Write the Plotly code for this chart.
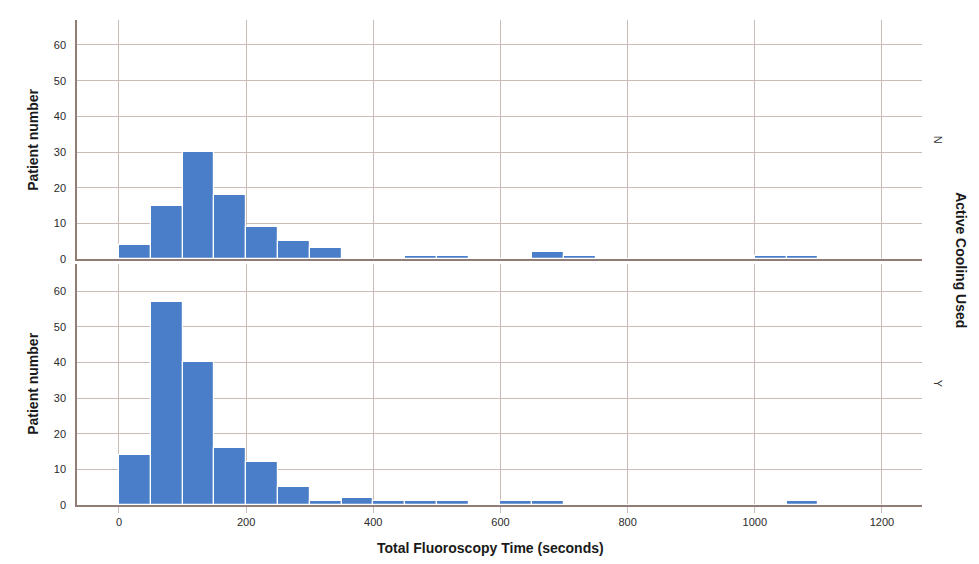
import plotly.graph_objects as go

# Histogram bins (seconds), width 50
bin_starts = [0, 50, 100, 150, 200, 250, 300, 350, 400, 450, 500, 550,
              600, 650, 700, 750, 800, 850, 900, 950, 1000, 1050, 1100, 1150]
bin_width = 50

# Counts per bin, Active Cooling Used = N
counts_n = [4, 15, 30, 18, 9, 5, 3, 0, 0, 1, 1, 0,
            0, 2, 1, 0, 0, 0, 0, 0, 1, 1, 0, 0]
# Counts per bin, Active Cooling Used = Y
counts_y = [14, 57, 40, 16, 12, 5, 1, 2, 1, 1, 1, 0,
            1, 1, 0, 0, 0, 0, 0, 0, 0, 1, 0, 0]

x_ticks = [0, 200, 400, 600, 800, 1000, 1200]
y_ticks = [0, 10, 20, 30, 40, 50, 60]
panel_labels = ["N", "Y"]

centers = [s + bin_width / 2 for s in bin_starts]

BAR = "#4a7ec9"
GRID = "#c9bbb5"
AXIS = "#927d76"
FONT = "Liberation Sans, Arial, sans-serif"
TICKFONT = dict(family=FONT, size=11, color="#2a2a2a")

fig = go.Figure()
fig.add_trace(go.Bar(x=centers, y=counts_n, width=bin_width, xaxis="x2", yaxis="y2",
                     marker=dict(color=BAR, line=dict(color="white", width=1.2)),
                     showlegend=False))
fig.add_trace(go.Bar(x=centers, y=counts_y, width=bin_width, xaxis="x", yaxis="y",
                     marker=dict(color=BAR, line=dict(color="white", width=1.2)),
                     showlegend=False))

xcommon = dict(range=[-66, 1263], tickvals=x_ticks, showgrid=True, gridcolor=GRID,
               gridwidth=1, showline=True, linecolor=AXIS, linewidth=2, zeroline=False,
               automargin=False)
ycommon = dict(tickvals=y_ticks, showgrid=True, gridcolor=GRID, gridwidth=1,
               showline=True, linecolor=AXIS, linewidth=1.5, zeroline=False,
               ticks="", ticklabelstandoff=7, automargin=False, tickfont=TICKFONT)

# The page body adds an 8px offset on every side, so the figure is sized to fit inside
fig.update_layout(
    width=963, height=548,
    margin=dict(l=69, r=49, t=12, b=51),
    paper_bgcolor="white", plot_bgcolor="white",
    bargap=0,
    xaxis=dict(**xcommon, anchor="y", ticks="outside", ticklen=6, tickcolor=GRID,
               tickfont=TICKFONT),
    xaxis2=dict(**xcommon, anchor="y2", matches="x", showticklabels=False, ticks=""),
    yaxis=dict(**ycommon, domain=[0, 0.497], range=[0, 67.6], anchor="x"),
    yaxis2=dict(**ycommon, domain=[0.507, 1], range=[0, 67], anchor="x2"),
    font=dict(family=FONT),
)

title_font = dict(family=FONT, size=14, color="#1a1a1a")
annotations = [
    dict(text="<b>Total Fluoroscopy Time (seconds)</b>", xref="paper", yref="paper",
         x=0.489, y=-0.088, xanchor="center", yanchor="middle", showarrow=False, font=title_font),
    dict(text="<b>Patient number</b>", xref="paper", yref="paper", x=-0.052, y=0.753,
         xanchor="center", yanchor="middle", textangle=-90, showarrow=False, font=title_font),
    dict(text="<b>Patient number</b>", xref="paper", yref="paper", x=-0.052, y=0.25,
         xanchor="center", yanchor="middle", textangle=-90, showarrow=False, font=title_font),
    dict(text=panel_labels[0], xref="paper", yref="paper", x=1.019, y=0.753,
         xanchor="center", yanchor="middle", textangle=90, showarrow=False,
         font=dict(family=FONT, size=11, color="#333333")),
    dict(text=panel_labels[1], xref="paper", yref="paper", x=1.019, y=0.25,
         xanchor="center", yanchor="middle", textangle=90, showarrow=False,
         font=dict(family=FONT, size=11, color="#333333")),
    dict(text="<b>Active Cooling Used</b>", xref="paper", yref="paper", x=1.046, y=0.505,
         xanchor="center", yanchor="middle", textangle=90, showarrow=False, font=title_font),
]
fig.update_layout(annotations=annotations)

fig.write_html("out.html")
